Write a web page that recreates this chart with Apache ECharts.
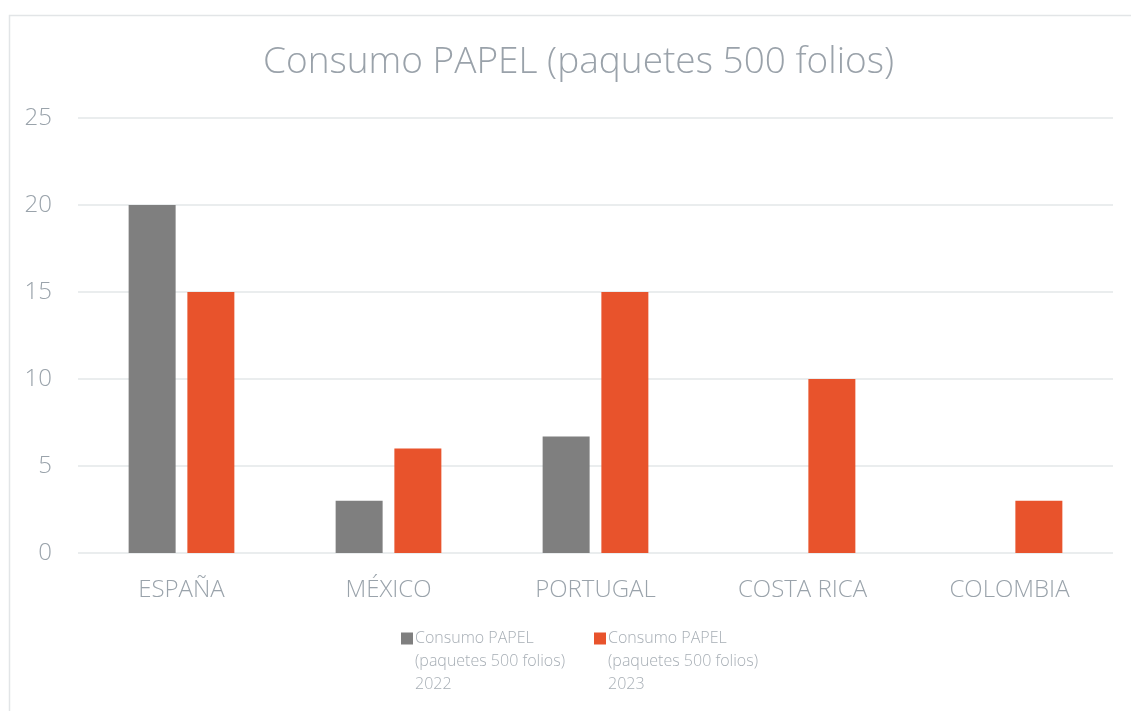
<!DOCTYPE html>
<html><head><meta charset="utf-8">
<script src="https://cdn.jsdelivr.net/npm/echarts@6/dist/echarts.min.js"></script>
<style>html,body{margin:0;padding:0;background:#fff}#c{width:1131px;height:711px}</style>
</head><body><div id="c"></div>
<script>
const categories = ['ESPAÑA', 'MÉXICO', 'PORTUGAL', 'COSTA RICA', 'COLOMBIA'];
const values2022 = [20, 3, 6.7, 0, 0];
const values2023 = [15, 6, 15, 10, 3];
const seriesNames = ['Consumo PAPEL\n(paquetes 500 folios)\n2022', 'Consumo PAPEL\n(paquetes 500 folios)\n2023'];
const yTicks = [0, 5, 10, 15, 20, 25];
const titleText = 'Consumo PAPEL (paquetes 500 folios)';

const FONT = '"Open Sans", sans-serif';
const chart = echarts.init(document.getElementById('c'), null, {renderer: 'canvas'});
const legendText = {color: '#a7aeb5', fontSize: 16, fontFamily: FONT, fontWeight: 300, lineHeight: 23, padding: [0, 0, 0, -3]};
const legendFmt = name => ' \n \n' + name;
chart.setOption({
  animation: false,
  backgroundColor: '#fff',
  graphic: [{
    type: 'rect', left: 7, top: 13, shape: {x: 0, y: 0, width: 1140, height: 720},
    style: {fill: 'none', stroke: '#e2e5e7', lineWidth: 1.5}, z: -10
  }],
  title: {
    text: titleText, left: 258, top: 39,
    textStyle: {color: '#9aa2aa', fontSize: 37, fontFamily: FONT, fontWeight: 300}
  },
  legend: [
    {data: [seriesNames[0]], left: 401, top: 581, itemWidth: 12, itemHeight: 12, itemGap: 0,
     icon: 'rect', textStyle: legendText, padding: 0, formatter: legendFmt},
    {data: [seriesNames[1]], left: 594, top: 581, itemWidth: 12, itemHeight: 12, itemGap: 0,
     icon: 'rect', textStyle: legendText, padding: 0, formatter: legendFmt}
  ],
  grid: {left: 78, right: 18, top: 118, bottom: 158, containLabel: false},
  xAxis: {
    type: 'category', data: categories,
    axisLine: {show: false}, axisTick: {show: false},
    axisLabel: {color: '#9aa3ab', fontSize: 24, fontFamily: FONT, fontWeight: 300, margin: 25}
  },
  yAxis: {
    type: 'value', min: yTicks[0], max: yTicks[yTicks.length - 1], interval: 5,
    axisLine: {show: false}, axisTick: {show: false},
    axisLabel: {color: '#9aa3ab', fontSize: 24, fontFamily: FONT, fontWeight: 300, margin: 26},
    splitLine: {lineStyle: {color: '#e3e7e8', width: 1.5}}
  },
  series: [
    {name: seriesNames[0], type: 'bar', data: values2022, barWidth: '22.7%', barGap: '25%',
     itemStyle: {color: '#7f7f7f'}},
    {name: seriesNames[1], type: 'bar', data: values2023, barWidth: '22.7%', barGap: '25%',
     itemStyle: {color: '#e8532c'}}
  ]
});
</script></body></html>
